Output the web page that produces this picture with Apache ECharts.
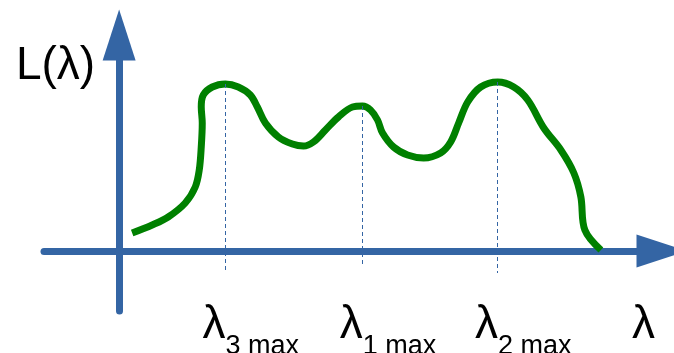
<!DOCTYPE html>
<html>
<head>
<meta charset="utf-8">
<script src="https://cdn.jsdelivr.net/npm/echarts@6/dist/echarts.min.js"></script>
<style>
  html, body { margin: 0; padding: 0; background: #fff; }
  #main { width: 674px; height: 353px; }
</style>
</head>
<body>
<div id="main"></div>
<script>
// spectral curve L(lambda), arbitrary units
var curveX = [13, 33, 49, 66, 76, 80, 82, 83, 82, 84, 93, 106, 119, 131, 138, 146, 159, 173, 184, 194,
              206, 219, 233, 243, 251, 258, 263, 274, 288, 304, 321, 331, 339, 348, 361, 378, 394, 408,
              424, 441, 454, 461, 465, 481];
var curveY = [18, 26, 34, 48, 64, 81, 104, 128, 144, 156, 164, 167, 164, 156, 144, 128, 114, 107, 105, 109,
              121, 134, 144, 145, 141, 131, 118, 104, 96, 93, 98, 109, 128, 149, 164, 169, 164, 151,
              123, 101, 78, 54, 21, 1];

// local maxima and their drop lines
var peakX = [106, 243, 378];
var peakTop = [167, 145, 169];
var peakBottom = [-22, -13, -22];
var peakNames = ['3 max', '1 max', '2 max'];
// where the plain axis symbol sits under the arrow
var axisNameX = 498;

var axisColor = '#3465a4';
var font = 'Liberation Sans';

var myChart = echarts.init(document.getElementById('main'));

var curve = curveX.map(function (x, i) { return [x, curveY[i]]; });
var drops = peakX.map(function (x, i) {
    return [{ coord: [x, peakTop[i]] }, { coord: [x, peakBottom[i]] }];
});

var option = {
    animation: false,
    grid: {
        left: 44,
        right: 12,
        top: 35,
        bottom: 42,
        containLabel: false,
        outerBoundsMode: 'none'
    },
    xAxis: {
        type: 'value',
        min: -75,
        max: 542,
        axisLine: {
            onZero: true,
            symbol: ['none', 'triangle'],
            symbolSize: [33, 51],
            lineStyle: { color: axisColor, width: 7 }
        },
        axisTick: { show: false },
        splitLine: { show: false },
        axisLabel: {
            show: true,
            customValues: peakX.concat([axisNameX]),
            margin: -9,
            padding: [0, 0, 0, 51],
            hideOverlap: false,
            formatter: function (v) {
                var i = peakX.indexOf(v);
                if (i < 0) {
                    return '{a|λ}';
                }
                return '{a|λ}{b|' + peakNames[i] + '}';
            },
            rich: {
                a: { fontFamily: font, fontSize: 46, lineHeight: 58, verticalAlign: 'top', color: '#000' },
                b: { fontFamily: font, fontSize: 27, lineHeight: 1, verticalAlign: 'bottom', color: '#000' }
            }
        }
    },
    yAxis: {
        type: 'value',
        min: -60,
        max: 216,
        name: 'L(λ)',
        nameLocation: 'end',
        nameGap: -31,
        nameTextStyle: {
            fontFamily: font,
            fontSize: 46,
            lineHeight: 46,
            color: '#000',
            align: 'right',
            verticalAlign: 'middle',
            padding: [0, 24, 0, 0]
        },
        axisLine: {
            onZero: true,
            symbol: ['none', 'triangle'],
            symbolSize: [33, 51],
            lineStyle: { color: axisColor, width: 7 }
        },
        axisTick: { show: false },
        axisLabel: { show: false },
        splitLine: { show: false }
    },
    series: [
        {
            type: 'line',
            data: curve,
            smooth: 0.35,
            showSymbol: false,
            silent: true,
            lineStyle: { color: '#008000', width: 7 },
            markLine: {
                silent: true,
                symbol: 'none',
                label: { show: false },
                lineStyle: { color: axisColor, width: 1, type: [4, 3] },
                data: drops
            }
        }
    ]
};
myChart.setOption(option);
</script>
</body>
</html>
